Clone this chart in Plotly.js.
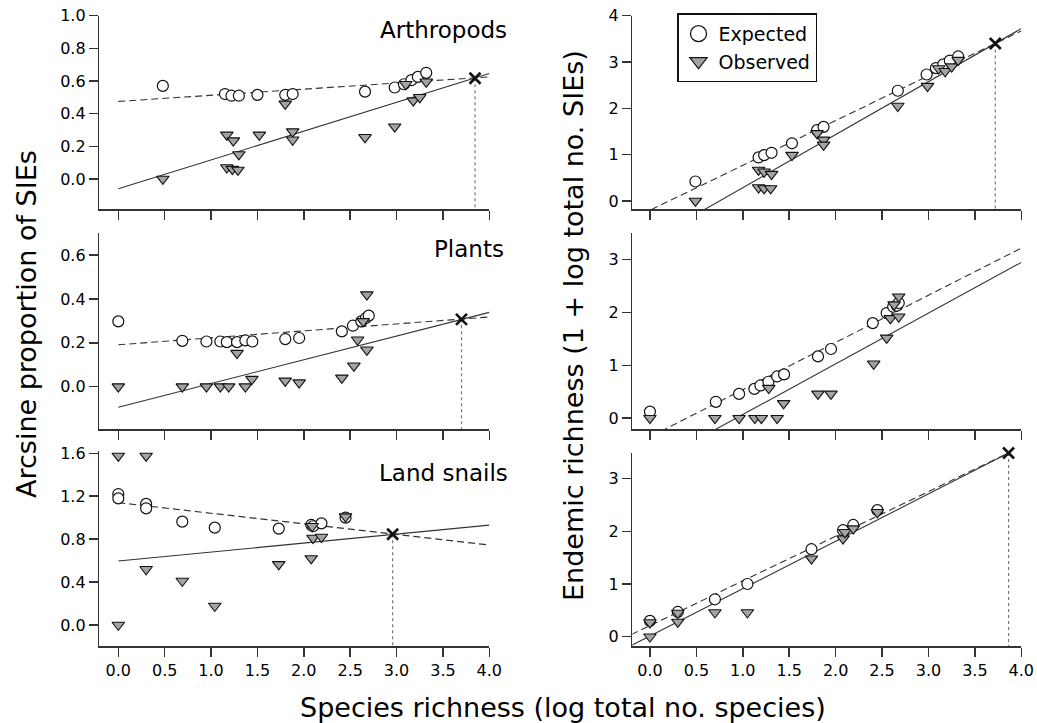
<!DOCTYPE html>
<html>
<head>
<meta charset="utf-8">
<script src="https://cdn.plot.ly/plotly-3.0.1.min.js"></script>
<style>
html,body{margin:0;padding:0;background:#fff;}
#chart{width:1037px;height:723px;}
</style>
</head>
<body>
<div id="chart"></div>
<script>
// ---------- DATA ----------
const xTicks = [0, 0.5, 1.0, 1.5, 2.0, 2.5, 3.0, 3.5, 4.0];
const seriesNames = ["Expected", "Observed"];
const panelLabels = ["Arthropods", "Plants", "Land snails"];

// Arthropods – arcsine proportion of SIEs
const arthPropExpX = [0.48, 1.15, 1.22, 1.30, 1.50, 1.80, 1.88, 2.66, 2.98, 3.08, 3.16, 3.23, 3.32];
const arthPropExpY = [0.57, 0.52, 0.51, 0.51, 0.515, 0.515, 0.52, 0.535, 0.56, 0.58, 0.605, 0.625, 0.65];
const arthPropObsX = [0.48, 1.17, 1.24, 1.30, 1.17, 1.23, 1.29, 1.52, 1.80, 1.88, 1.88, 2.66, 2.98, 3.10, 3.18, 3.25, 3.32];
const arthPropObsY = [0.0, 0.27, 0.235, 0.15, 0.07, 0.06, 0.055, 0.27, 0.46, 0.29, 0.24, 0.255, 0.32, 0.58, 0.48, 0.50, 0.595];
const arthPropLineX = [0, 4];
const arthPropExpLine = [0.475, 0.625];
const arthPropObsLine = [-0.06, 0.646];
const arthPropCross = [3.846, 0.617];

// Arthropods – endemic richness
const arthRichExpX = [0.49, 1.17, 1.23, 1.31, 1.53, 1.80, 1.87, 2.67, 2.98, 3.08, 3.16, 3.23, 3.32];
const arthRichExpY = [0.42, 0.94, 0.99, 1.04, 1.245, 1.53, 1.60, 2.38, 2.73, 2.87, 2.95, 3.03, 3.12];
const arthRichObsX = [0.49, 1.17, 1.23, 1.31, 1.17, 1.23, 1.30, 1.53, 1.80, 1.87, 1.87, 2.67, 2.99, 3.11, 3.18, 3.25, 3.32];
const arthRichObsY = [0.0, 0.67, 0.63, 0.58, 0.29, 0.27, 0.27, 0.99, 1.46, 1.32, 1.21, 2.05, 2.48, 2.86, 2.80, 2.90, 3.04];
const arthRichLineX = [-0.2, 4];
const arthRichExpLine = [-0.394, 3.672];
const arthRichObsLine = [-1.088, 3.721];
const arthRichCross = [3.72, 3.40];

// Plants – arcsine proportion
const plantPropExpX = [0.0, 0.69, 0.95, 1.10, 1.17, 1.28, 1.37, 1.445, 1.80, 1.95, 2.41, 2.53, 2.62, 2.67, 2.70];
const plantPropExpY = [0.298, 0.209, 0.206, 0.206, 0.203, 0.203, 0.211, 0.206, 0.217, 0.222, 0.252, 0.278, 0.298, 0.313, 0.324];
const plantPropObsX = [0.0, 0.69, 0.95, 1.10, 1.19, 1.37, 1.28, 1.44, 1.80, 1.95, 2.41, 2.54, 2.58, 2.68, 2.68, 2.64];
const plantPropObsY = [0.0, 0.0, 0.0, 0.0, 0.0, 0.0, 0.153, 0.034, 0.026, 0.018, 0.04, 0.095, 0.214, 0.168, 0.42, 0.298];
const plantPropLineX = [0, 4];
const plantPropExpLine = [0.191, 0.318];
const plantPropObsLine = [-0.094, 0.339];
const plantPropCross = [3.70, 0.307];

// Plants – endemic richness
const plantRichExpX = [0.0, 0.71, 0.96, 1.125, 1.19, 1.276, 1.37, 1.445, 1.81, 1.95, 2.40, 2.55, 2.62, 2.66, 2.68];
const plantRichExpY = [0.125, 0.31, 0.46, 0.555, 0.62, 0.69, 0.79, 0.83, 1.17, 1.31, 1.80, 1.99, 2.11, 2.13, 2.18];
const plantRichObsX = [0.0, 0.70, 0.96, 1.13, 1.20, 1.37, 1.28, 1.44, 1.81, 1.95, 2.41, 2.55, 2.59, 2.68, 2.68, 2.63];
const plantRichObsY = [0.0, 0.0, 0.0, 0.0, 0.0, 0.0, 0.57, 0.28, 0.46, 0.46, 1.03, 1.52, 1.89, 1.92, 2.30, 2.15];
const plantRichLineX = [-0.2, 4];
const plantRichExpLine = [-0.531, 3.22];
const plantRichObsLine = [-1.082, 2.95];

// Land snails – arcsine proportion
const snailPropExpX = [0.0, 0.0, 0.30, 0.30, 0.69, 1.04, 1.73, 2.08, 2.10, 2.19, 2.45];
const snailPropExpY = [1.22, 1.18, 1.128, 1.087, 0.963, 0.907, 0.898, 0.932, 0.92, 0.947, 1.0];
const snailPropObsX = [0.0, 0.30, 0.30, 0.0, 0.69, 1.04, 1.73, 2.08, 2.10, 2.19, 2.09, 2.45];
const snailPropObsY = [1.575, 1.575, 0.519, 0.0, 0.41, 0.177, 0.565, 0.62, 0.81, 0.82, 0.92, 1.01];
const snailPropLineX = [0, 4];
const snailPropExpLine = [1.14, 0.745];
const snailPropObsLine = [0.596, 0.93];
const snailPropCross = [2.958, 0.845];

// Land snails – endemic richness
const snailRichExpX = [0.0, 0.30, 0.70, 1.05, 1.74, 2.08, 2.19, 2.45];
const snailRichExpY = [0.30, 0.47, 0.71, 1.0, 1.66, 2.02, 2.12, 2.40];
const snailRichObsX = [0.0, 0.0, 0.30, 0.30, 0.70, 1.05, 1.74, 2.08, 2.10, 2.19, 2.45];
const snailRichObsY = [0.0, 0.27, 0.45, 0.28, 0.46, 0.46, 1.48, 1.86, 1.98, 2.05, 2.36];
const snailRichLineX = [-0.2, 4];
const snailRichExpLine = [0.041, 3.601];
const snailRichObsLine = [-0.166, 3.608];
const snailRichCross = [3.863, 3.485];

// y tick values
const yTicksArthProp = [0, 0.2, 0.4, 0.6, 0.8, 1.0];
const yTicksArthRich = [0, 1, 2, 3, 4];
const yTicksPlantProp = [0, 0.2, 0.4, 0.6];
const yTicksPlantRich = [0, 1, 2, 3];
const yTicksSnailProp = [0, 0.4, 0.8, 1.2, 1.6];
const yTicksSnailRich = [0, 1, 2, 3];

// ---------- STYLE ----------
const FONT = "DejaVu Sans, Verdana, sans-serif";
const INK = "#000";
const AX = "#333";

const W = 1037, H = 723;
const px = v => v / W;
const py = v => 1 - v / H;

const xLeftDom = [px(99.3), px(489.3)];
const xRightDom = [px(632.3), px(1021.3)];

function xAxis(domain, range, showLabels, anchor) {
  return {
    domain: domain, range: range, anchor: anchor,
    tickmode: "array", tickvals: xTicks, tickformat: ".1f",
    showticklabels: showLabels, ticks: "outside", ticklen: 9, tickwidth: 1.5, tickcolor: AX,
    showline: true, linewidth: 1.5, linecolor: AX, showgrid: false, zeroline: false,
    tickfont: {family: FONT, size: 16, color: INK}, fixedrange: true
  };
}
function yAxis(domain, range, ticks, fmt, anchor) {
  return {
    domain: domain, range: range, anchor: anchor,
    tickmode: "array", tickvals: ticks, tickformat: fmt,
    ticks: "outside", ticklen: 9, tickwidth: 1.5, tickcolor: AX,
    showline: true, linewidth: 1.5, linecolor: AX, showgrid: false, zeroline: false,
    tickfont: {family: FONT, size: 16, color: INK}, fixedrange: true
  };
}

const ranges = {
  y1: [-0.186, 1.0], y2: [-0.18, 4.0],
  y3: [-0.195, 0.70], y4: [-0.21, 3.50],
  y5: [-0.196, 1.624], y6: [-0.176, 3.49]
};
const xRangeL = [-0.205, 4.0];
const xRangeR = [-0.19, 4.0];

const traces = [];
function panel(n, expX, expY, obsX, obsY, lineX, expLine, obsLine, cross) {
  const xa = "x" + (n === 1 ? "" : n), ya = "y" + (n === 1 ? "" : n);
  traces.push({x: lineX, y: expLine, xaxis: xa, yaxis: ya, mode: "lines", showlegend: false, hoverinfo: "skip",
    line: {color: "#333", width: 1.1, dash: "7px,4px"}});
  traces.push({x: lineX, y: obsLine, xaxis: xa, yaxis: ya, mode: "lines", showlegend: false, hoverinfo: "skip",
    line: {color: "#333", width: 1.1}});
  if (cross) {
    traces.push({x: [cross[0], cross[0]], y: [cross[1], ranges["y" + n][0]], xaxis: xa, yaxis: ya, mode: "lines",
      showlegend: false, hoverinfo: "skip", line: {color: "#777", width: 1.2, dash: "dot"}});
  }
  traces.push({x: expX, y: expY, xaxis: xa, yaxis: ya, mode: "markers", name: seriesNames[0], showlegend: false,
    marker: {symbol: "circle", size: 11, color: "#fff", line: {color: "#111", width: 1.2}}});
  traces.push({x: obsX, y: obsY, xaxis: xa, yaxis: ya, mode: "markers", name: seriesNames[1], showlegend: false,
    marker: {symbol: "triangle-down", size: 11, color: "#a3a3a3", line: {color: "#111", width: 1.1}}});
  if (cross) {
    traces.push({x: [cross[0]], y: [cross[1]], xaxis: xa, yaxis: ya, mode: "markers", showlegend: false,
      cliponaxis: false, hoverinfo: "skip",
      marker: {symbol: "x-thin-open", size: 11, color: "#111", line: {color: "#111", width: 2.6}}});
  }
}

panel(1, arthPropExpX, arthPropExpY, arthPropObsX, arthPropObsY, arthPropLineX, arthPropExpLine, arthPropObsLine, arthPropCross);
panel(2, arthRichExpX, arthRichExpY, arthRichObsX, arthRichObsY, arthRichLineX, arthRichExpLine, arthRichObsLine, arthRichCross);
panel(3, plantPropExpX, plantPropExpY, plantPropObsX, plantPropObsY, plantPropLineX, plantPropExpLine, plantPropObsLine, plantPropCross);
panel(4, plantRichExpX, plantRichExpY, plantRichObsX, plantRichObsY, plantRichLineX, plantRichExpLine, plantRichObsLine, null);
panel(5, snailPropExpX, snailPropExpY, snailPropObsX, snailPropObsY, snailPropLineX, snailPropExpLine, snailPropObsLine, snailPropCross);
panel(6, snailRichExpX, snailRichExpY, snailRichObsX, snailRichObsY, snailRichLineX, snailRichExpLine, snailRichObsLine, snailRichCross);

// legend-only entries
traces.push({x: [null], y: [null], xaxis: "x2", yaxis: "y2", mode: "markers", name: seriesNames[0], showlegend: true,
  marker: {symbol: "circle", size: 16, color: "#fff", line: {color: "#111", width: 1.3}}});
traces.push({x: [null], y: [null], xaxis: "x2", yaxis: "y2", mode: "markers", name: seriesNames[1], showlegend: true,
  marker: {symbol: "triangle-down", size: 15, color: "#a3a3a3", line: {color: "#111", width: 1.2}}});

const row1 = [py(209.3), py(15.7)];
const row2 = [py(429.3), py(233.3)];
const row3L = [py(646), py(450.7)];
const row3R = [py(646), py(452.7)];

const layout = {
  width: W, height: H,
  margin: {l: 0, r: 0, t: 0, b: 0},
  paper_bgcolor: "#fff", plot_bgcolor: "rgba(0,0,0,0)",
  showlegend: true,
  legend: {x: px(677), y: py(13.3), xanchor: "left", yanchor: "top",
    bordercolor: "#111", borderwidth: 1.5, bgcolor: "#fff",
    font: {family: FONT, size: 19, color: INK}, tracegroupgap: 0, itemwidth: 30},
  xaxis: xAxis(xLeftDom, xRangeL, false, "y"),
  yaxis: yAxis(row1, ranges.y1, yTicksArthProp, ".1f", "x"),
  xaxis2: xAxis(xRightDom, xRangeR, false, "y2"),
  yaxis2: yAxis(row1, ranges.y2, yTicksArthRich, "d", "x2"),
  xaxis3: xAxis(xLeftDom, xRangeL, false, "y3"),
  yaxis3: yAxis(row2, ranges.y3, yTicksPlantProp, ".1f", "x3"),
  xaxis4: xAxis(xRightDom, xRangeR, false, "y4"),
  yaxis4: yAxis(row2, ranges.y4, yTicksPlantRich, "d", "x4"),
  xaxis5: xAxis(xLeftDom, xRangeL, true, "y5"),
  yaxis5: yAxis(row3L, ranges.y5, yTicksSnailProp, ".1f", "x5"),
  xaxis6: xAxis(xRightDom, xRangeR, true, "y6"),
  yaxis6: yAxis(row3R, ranges.y6, yTicksSnailRich, "d", "x6"),
  annotations: [
    {text: panelLabels[0], xref: "paper", yref: "paper", x: px(509), y: py(30), xanchor: "right", yanchor: "middle",
      showarrow: false, font: {family: FONT, size: 23, color: INK}},
    {text: panelLabels[1], xref: "paper", yref: "paper", x: px(506), y: py(249), xanchor: "right", yanchor: "middle",
      showarrow: false, font: {family: FONT, size: 23, color: INK}},
    {text: panelLabels[2], xref: "paper", yref: "paper", x: px(510), y: py(473), xanchor: "right", yanchor: "middle",
      showarrow: false, font: {family: FONT, size: 23, color: INK}},
    {text: "Species richness (log total no. species)", xref: "paper", yref: "paper", x: px(563), y: py(707),
      xanchor: "center", yanchor: "middle", showarrow: false, font: {family: FONT, size: 27, color: INK}},
    {text: "Arcsine proportion of SIEs", xref: "paper", yref: "paper", x: px(26), y: py(324), textangle: -90,
      xanchor: "center", yanchor: "middle", showarrow: false, font: {family: FONT, size: 27, color: INK}},
    {text: "Endemic richness (1 + log total no. SIEs)", xref: "paper", yref: "paper", x: px(574), y: py(326), textangle: -90,
      xanchor: "center", yanchor: "middle", showarrow: false, font: {family: FONT, size: 27, color: INK}}
  ]
};

Plotly.newPlot("chart", traces, layout, {displayModeBar: false, staticPlot: true});
</script>
</body>
</html>
